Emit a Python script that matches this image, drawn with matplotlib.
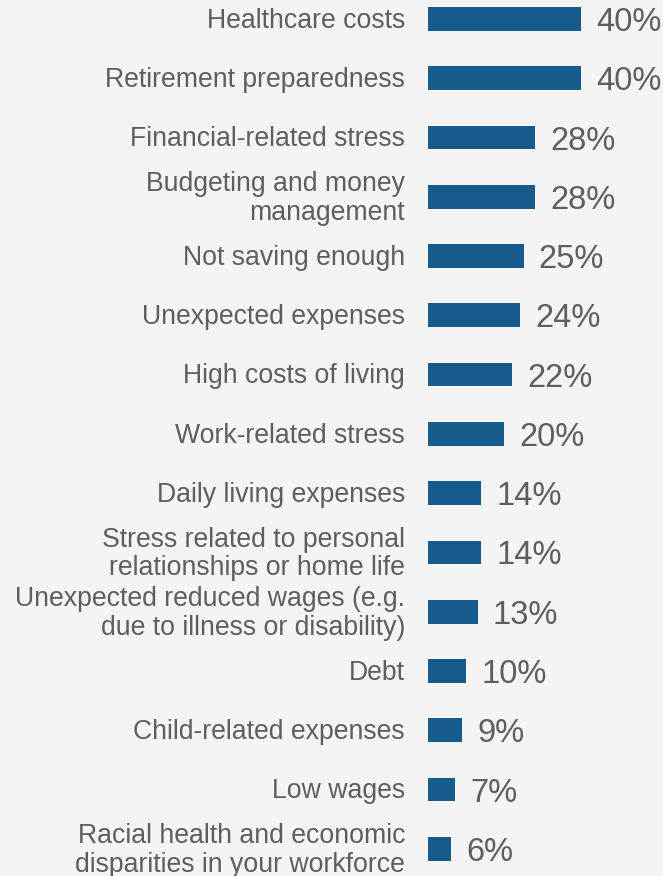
import matplotlib.pyplot as plt

# Top concerns, share of respondents (%)
categories = [
    "Healthcare costs",
    "Retirement preparedness",
    "Financial-related stress",
    "Budgeting and money\nmanagement",
    "Not saving enough",
    "Unexpected expenses",
    "High costs of living",
    "Work-related stress",
    "Daily living expenses",
    "Stress related to personal\nrelationships or home life",
    "Unexpected reduced wages (e.g.\ndue to illness or disability)",
    "Debt",
    "Child-related expenses",
    "Low wages",
    "Racial health and economic\ndisparities in your workforce",
]
values = [40, 40, 28, 28, 25, 24, 22, 20, 14, 14, 13, 10, 9, 7, 6]

BG = "#f4f4f4"
BAR = "#175a8c"
TXT = "#5e5e5e"

plt.rcParams['font.family'] = ['Liberation Sans', 'DejaVu Sans']

fig = plt.figure(figsize=(6.63, 8.76), dpi=100, facecolor=BG)
ax = fig.add_axes([428 / 663, 0, 235 / 663, 1])
ax.set_facecolor(BG)

pos = list(range(len(values)))
ax.barh(pos, values, height=0.40, color=BAR)

ax.set_xlim(0, 61.5)
ax.set_ylim(14.46, -0.32)
ax.axis('off')

for i, (cat, v) in enumerate(zip(categories, values)):
    ax.text(-6.0, i + 0.03, cat, ha='right', va='center', fontsize=19.2,
            color=TXT, linespacing=1.12, clip_on=False)
    ax.text(v + 4.0, i + 0.06, f"{v}%", ha='left', va='center',
            fontsize=23.5, color=TXT, clip_on=False)

fig.savefig("out.png", dpi=100, facecolor=BG)
